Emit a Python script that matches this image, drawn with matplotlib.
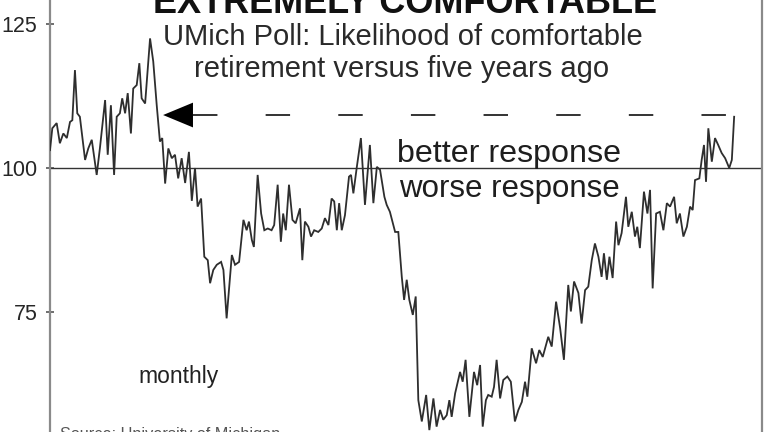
import matplotlib
matplotlib.use("Agg")
import matplotlib.pyplot as plt
import numpy as np

plt.rcParams['font.family'] = ['Liberation Sans', 'DejaVu Sans']
plt.rcParams['lines.scale_dashes'] = False

# month index (from start of series) and index value
months = [0, 0.8, 2.3, 3.4, 4.6, 5.8, 6.9, 7.7, 8.6, 9.4, 10.3, 12.1, 13.2, 14.4, 16.1, 17.2,
          19.0, 19.9, 21.0, 22.1, 23.0, 24.1, 24.9, 25.9, 26.8, 27.9, 28.7, 29.9, 30.8, 31.6,
          32.8, 34.5, 35.6, 36.8, 37.9, 38.7, 39.7, 40.8, 42.0, 43.1, 44.2, 45.4, 46.6, 47.9,
          48.9, 50.0, 50.9, 52.1,
          53.2, 54.4, 55.2, 56.3, 57.5, 59.0, 59.8, 60.9, 62.7, 63.8, 65.2, 66.7, 67.8, 68.6,
          69.6, 70.3, 71.6, 72.8, 73.9, 75.1, 76.4, 77.3, 78.5, 79.6, 80.4, 81.3, 82.4, 83.6,
          84.7, 86.2, 87.0, 87.9, 89.1, 90.0, 91.1, 92.5, 93.7, 94.8, 96.0, 97.1, 98.0, 98.9,
          99.7, 100.6, 101.7, 103.1, 103.8, 104.6, 105.8, 107.2, 108.6, 110.3, 111.5, 112.7,
          113.8, 115.3,
          116.1, 117.2, 119.0, 120.1, 121.3, 122.1, 123.0, 123.9, 125.1, 126.1, 127.0, 128.2,
          129.7, 130.8, 132.2, 133.3, 134.5, 135.6, 136.8, 137.7, 138.5, 139.7, 141.4, 142.3,
          143.3, 144.6, 146.2, 147.3, 148.3, 149.2, 150.3, 151.1, 152.3, 153.1, 154.0, 155.2,
          156.3, 157.7, 158.9, 160.3, 161.5, 162.7, 163.8, 164.6, 166.1, 167.6, 168.7, 169.9,
          171.8, 173.0, 174.5, 175.9, 177.2, 178.7, 179.6, 180.7, 182.2, 183.3,
          184.5, 185.6, 186.8, 187.9, 189.1, 190.2, 191.0, 192.0, 192.9, 194.0, 195.2, 196.0,
          197.1, 198.6, 199.4, 200.6, 201.7, 202.5, 203.4, 204.8, 206.0, 206.9, 207.8, 209.0,
          210.3, 211.5, 212.7, 213.8, 215.2, 216.1, 217.2, 218.4, 219.6, 220.7, 221.6, 222.4,
          223.9, 224.7, 225.5, 226.2, 227.0, 228.2, 229.3, 230.4, 231.6, 232.8, 234.2, 235.1,
          235.9]

values = [103.1, 106.9, 107.8, 104.3, 106.0, 105.2, 108.0, 108.3, 117.0, 109.5, 108.9, 101.4,
          103.4, 104.9, 98.8, 103.4, 111.8, 102.3, 110.9, 98.8, 108.9, 109.5, 112.1, 109.5,
          113.0, 106.0, 113.8, 114.4, 118.2, 112.1, 111.2, 122.5, 118.5, 110.9, 104.6, 105.2,
          97.3, 103.4, 101.7, 102.3, 98.2, 101.7, 97.4, 102.8, 94.3, 100.0, 93.3, 94.7,
          84.6, 84.0, 80.0, 82.3, 83.2, 83.7, 82.3, 73.9, 84.9, 83.2, 83.7, 91.0, 89.2, 90.7,
          87.5, 86.3, 98.8, 92.1, 89.2, 89.5, 89.2, 90.1, 97.1, 87.2, 92.1, 89.2, 97.1, 91.0,
          90.4, 93.0, 84.0, 90.7, 89.8, 88.1, 89.2, 88.9, 89.5, 91.3, 90.1, 94.7, 94.2, 89.2,
          93.9, 89.2, 91.8, 98.5, 98.8, 95.6, 100.2, 105.2, 93.6, 104.0, 93.9, 100.2,
          99.7, 95.0,
          93.6, 92.4, 88.9, 88.9, 81.1, 77.1, 80.6, 77.1, 74.5, 77.7, 59.7, 56.0,
          60.6, 54.5, 60.0, 55.1, 58.0, 56.3, 57.1, 59.7, 56.8, 60.9, 64.6, 62.9,
          66.7, 56.8, 64.6, 62.3, 65.8, 55.1, 59.7, 60.6, 60.3, 62.0, 66.7, 60.0,
          63.2, 63.8, 62.9, 56.0, 58.0, 59.4, 62.9, 60.3, 68.7, 66.1, 68.4, 67.2,
          70.7, 69.0, 76.8, 72.2, 66.7, 79.7, 75.1, 80.3, 78.3, 73.0,
          78.8, 79.4, 84.0, 86.9, 84.6, 81.1, 85.2, 80.6, 84.6, 80.9, 90.7, 86.6,
          88.7, 95.0, 89.8, 92.4, 88.1, 89.8, 86.1, 95.9, 92.1, 96.2, 79.1, 92.1,
          92.4, 89.2, 93.9, 93.3, 95.0, 90.4, 92.1, 88.1, 89.8, 93.3, 92.7, 97.9,
          98.2, 101.4, 104.0, 97.6, 106.9, 101.1, 105.2, 104.0, 102.6, 101.7, 100.0, 101.4,
          108.9]

yticks = [75, 100, 125]
baseline_level = 100
latest_level = 109.2

W, H = 768, 432
fig = plt.figure(figsize=(W / 100, H / 100), dpi=100)
ax_left, ax_right = 50 / W, 761.7 / W
ax = fig.add_axes([ax_left, 0, ax_right - ax_left, 1])

ax.plot(months, values, color='#2e2e2e', lw=1.3, solid_joinstyle='miter', zorder=3)
ax.axhline(baseline_level, color='#333333', lw=1.0, zorder=2)

# dashed reference line at latest reading + arrow
ax.plot([49.3, 233.1], [latest_level, latest_level], color='#333333', lw=1.4,
        dashes=(17.6, 34.7), zorder=2)
ax.fill([39.0, 49.3, 49.3], [latest_level, latest_level + 2.15, latest_level - 2.15],
        color='black', lw=0, zorder=4)

ax.set_xlim(0, 245.4)
ax.set_ylim(54.17, 129.17)
ax.set_xticks([])
ax.set_yticks(yticks)
ax.set_yticklabels([str(t) for t in yticks], fontsize=15.5, color='#262626')
ax.tick_params(axis='y', direction='inout', length=6, width=1.2, color='#555555', pad=6)
for s in ['top', 'bottom']:
    ax.spines[s].set_visible(False)
for s in ['left', 'right']:
    ax.spines[s].set_color('#8a8a8a')
    ax.spines[s].set_linewidth(1.6)

def fx(px):
    return px / W

def fy(py):
    return 1 - py / H

fig.text(fx(405), fy(13), 'EXTREMELY COMFORTABLE', fontsize=26, fontweight='bold',
         color='#111111', ha='center', va='baseline')
fig.text(fx(403), fy(45), 'UMich Poll: Likelihood of comfortable', fontsize=21,
         color='#2a2a2a', ha='center', va='baseline')
fig.text(fx(402), fy(77), 'retirement versus five years ago', fontsize=21,
         color='#2a2a2a', ha='center', va='baseline')
fig.text(fx(397), fy(161.7), 'better response', fontsize=23.2, color='#1e1e1e',
         ha='left', va='baseline')
fig.text(fx(399), fy(196.7), 'worse response', fontsize=22.5, color='#1e1e1e',
         ha='left', va='baseline')
fig.text(fx(138), fy(382.7), 'monthly', fontsize=16.5, color='#222222',
         ha='left', va='baseline')
fig.text(fx(60), fy(427), 'Source: University of Michigan', fontsize=11.7, color='#555555',
         ha='left', va='top')

fig.savefig('out.png', dpi=100)
